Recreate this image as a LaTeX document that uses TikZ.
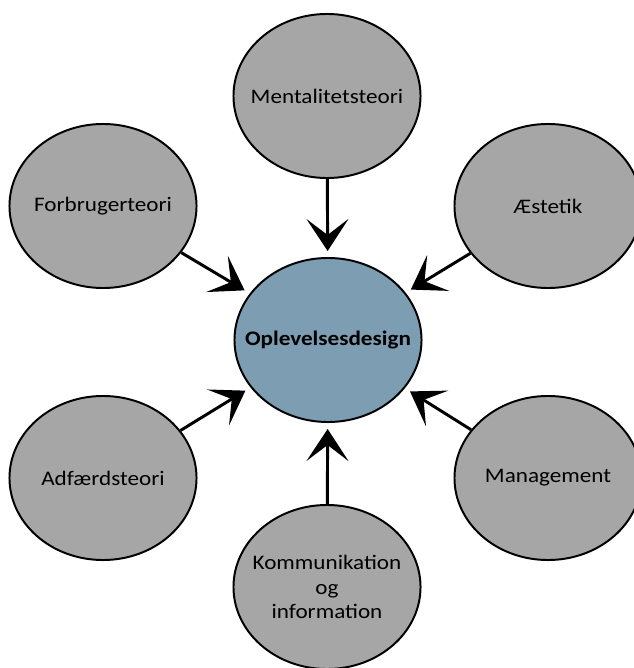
\documentclass[tikz,border=0pt]{standalone}
\usepackage{fontspec}
\setmainfont{Carlito}[FakeStretch=1.12]
\usetikzlibrary{shapes.geometric,arrows.meta}
\definecolor{felt}{RGB}{166,166,166}
\definecolor{kerne}{RGB}{124,157,178}

\begin{document}
\begin{tikzpicture}[x=0.025cm, y=-0.025cm,
  teori/.style={ellipse, draw, line width=1.4pt, fill=felt, minimum width=4.675cm, minimum height=4.1cm, inner xsep=-0.6cm, inner ysep=0pt, align=center, font=\fontsize{14.7}{17.4}\selectfont},
  pil/.style={-{Stealth[length=0.8cm, width=1.05cm, inset=0.4cm]}, line width=2.1pt, shorten >=0.15cm}]
  \useasboundingbox (0,0) rectangle (633,668);

  \node[teori, fill=kerne, font=\fontsize{14.7}{17.4}\selectfont\bfseries] (design) at (328,340) {Oplevelsesdesign};
  \node[teori] (mental) at (327,96) {Mentalitetsteori};
  \node[teori] (forbrug) at (103,206) {Forbrugerteori};
  \node[teori] (aestetik) at (548,206) {Æstetik};
  \node[teori] (adfaerd) at (103,478) {Adfærdsteori};
  \node[teori] (manage) at (548,478) {Management};
  \node[teori] (kommu) at (327,587) {Kommunikation\\og\\information};

  \draw[pil] (mental) -- (design);
  \draw[pil] (forbrug) -- (design);
  \draw[pil] (aestetik) -- (design);
  \draw[pil] (adfaerd) -- (design);
  \draw[pil] (manage) -- (design);
  \draw[pil] (kommu) -- (design);

\end{tikzpicture}
\end{document}
